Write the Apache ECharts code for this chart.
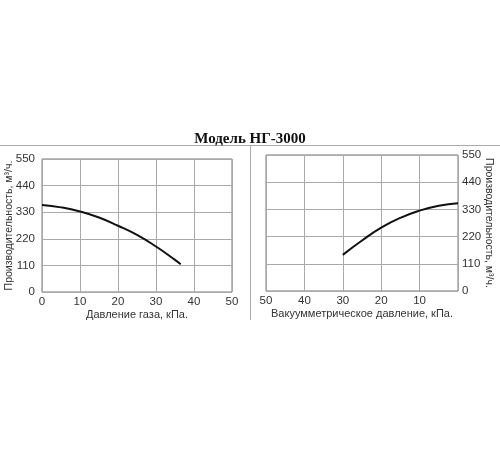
<!DOCTYPE html>
<html><head><meta charset="utf-8">
<script src="https://cdn.jsdelivr.net/npm/echarts@6/dist/echarts.min.js"></script>
<style>html,body{margin:0;padding:0;background:#fff}#c{width:500px;height:450px}</style>
</head><body><div id="c"></div>
<script>
const titleText = 'Модель НГ-3000';
const yName = 'Производительность, м³/ч.';
const leftXName = 'Давление газа, кПа.';
const rightXName = 'Вакуумметрическое давление, кПа.';
const xTicks = [0, 10, 20, 30, 40, 50];
const yTicks = [0, 110, 220, 330, 440, 550];
const leftX = [0, 5, 10, 15, 20, 25, 30, 35, 36.5];
const leftY = [360, 350, 333, 308, 274, 236, 188, 133, 115];
const rightX = [30, 25, 20, 15, 10, 5, 0];
const rightY = [146, 204, 256, 296, 325, 345, 355];

const chart = echarts.init(document.getElementById('c'));
const FONT = "'Liberation Sans', Arial, sans-serif";
const lbl = {color:'#333', fontFamily:FONT, fontSize:11.5};
const xNameStyle = {color:'#333', fontFamily:FONT, fontSize:11};
const yNameStyle = {color:'#333', fontFamily:FONT, fontSize:10.5};
const split = {show:true, lineStyle:{color:'#aaa', width:1}};
function xa(idx, inverse, name, showZero){
  return {gridIndex:idx, type:'value', min:xTicks[0], max:xTicks[xTicks.length-1], interval:xTicks[1]-xTicks[0], inverse:inverse,
    axisLine:{show:false}, axisTick:{show:false}, splitLine:split,
    axisLabel:Object.assign({margin:4, showMinLabel:showZero}, lbl),
    name:name, nameLocation:'middle', nameGap:17, nameMoveOverlap:false, nameTextStyle:xNameStyle};
}
function ya(idx, pos, rot, margin, gap){
  return {gridIndex:idx, type:'value', min:yTicks[0], max:yTicks[yTicks.length-1], interval:yTicks[1]-yTicks[0], position:pos,
    axisLine:{show:false}, axisTick:{show:false}, splitLine:split,
    axisLabel:Object.assign({margin:margin}, lbl),
    name:yName, nameLocation:'middle', nameRotate:rot, nameGap:gap, nameMoveOverlap:false, nameTextStyle:yNameStyle};
}
chart.setOption({
  animation:false,
  title:{text:titleText, left:'center', top:127, textStyle:{fontFamily:'Liberation Serif', fontWeight:'bold', fontSize:15, color:'#111'}},
  graphic:[
    {type:'line', shape:{x1:0,y1:145.5,x2:500,y2:145.5}, style:{stroke:'#aaa', lineWidth:1}},
    {type:'line', shape:{x1:250.5,y1:145.5,x2:250.5,y2:320}, style:{stroke:'#aaa', lineWidth:1}}
  ],
  grid:[
    {left:42, top:159, width:190, height:133, show:true, borderColor:'#777', borderWidth:1, outerBoundsMode:'none', containLabel:false},
    {left:266, top:155, width:192, height:136, show:true, borderColor:'#777', borderWidth:1, outerBoundsMode:'none', containLabel:false}
  ],
  xAxis:[xa(0,false,leftXName,true), xa(1,true,rightXName,false)],
  yAxis:[ya(0,'left',90,7,27), ya(1,'right',-90,4,25)],
  series:[
    {type:'line', xAxisIndex:0, yAxisIndex:0, smooth:true, showSymbol:false,
      lineStyle:{color:'#111', width:2}, data:leftX.map((x,i)=>[x,leftY[i]])},
    {type:'line', xAxisIndex:1, yAxisIndex:1, smooth:true, showSymbol:false,
      lineStyle:{color:'#111', width:2}, data:rightX.map((x,i)=>[x,rightY[i]])}
  ]
});
</script></body></html>
